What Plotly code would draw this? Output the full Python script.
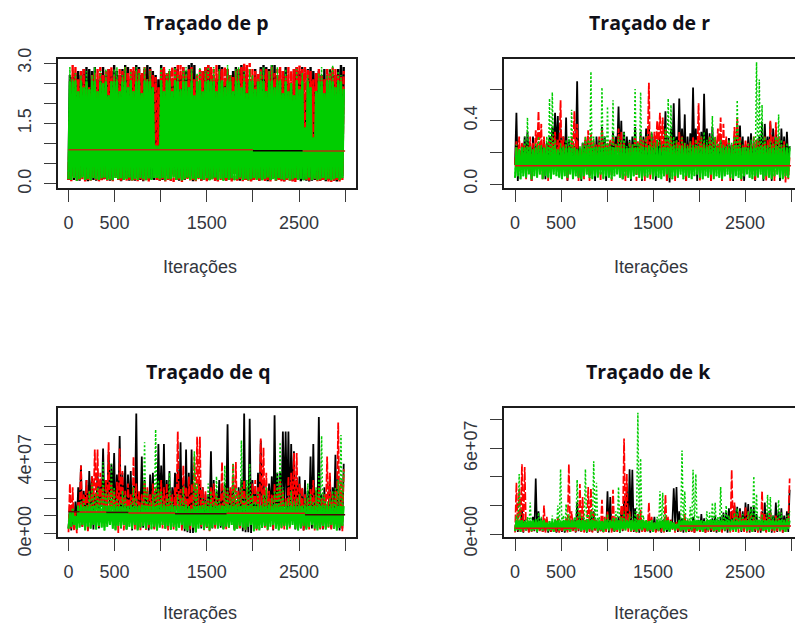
import numpy as np
import plotly.graph_objects as go

STEP = 30
SCALE = 1e7

# ---- Traçado de p ----
p_black_hi = [2.7,2.65,2.75,2.8,2.7,2.85,2.9,2.85,2.8,2.9,
              2.6,2.75,2.9,2.7,2.85,2.8,2.95,2.8,2.7,2.85,
              2.95,2.9,2.6,2.8,2.95,2.9,2.7,2.85,2.95,2.9,
              2.8,2.7,2.6,2.95,2.85,2.7,2.8,2.6,2.9,2.85,
              2.7,2.9,2.8,2.95,3.0,2.95,2.5,2.4,2.8,2.9,
              2.95,2.85,2.7,2.6,2.95,2.9,2.5,2.85,2.7,2.8,
              2.9,2.85,2.95,2.9,2.7,2.6,2.5,2.85,2.55,2.9,
              2.95,2.9,2.85,2.95,2.95,2.7,2.6,2.8,2.9,2.5,
              2.4,2.85,2.9,2.8,2.9,2.2,2.85,2.9,2.8,2.75,
              2.8,2.7,2.85,2.3,2.85,2.8,2.7,2.85,2.95,2.9]
p_black_lo = [0.1,0.2,0.1,0.15,0.08,0.2,0.1,0.07,0.15,0.1,
              0.08,0.2,0.1,0.12,0.15,0.08,0.1,0.2,0.1,0.07,
              0.1,0.15,0.08,0.1,0.08,0.15,0.1,0.07,0.2,0.1,
              0.12,0.1,0.3,0.08,0.1,0.2,0.12,0.08,0.25,0.1,
              0.08,0.2,0.1,0.15,0.2,0.07,0.1,0.15,0.08,0.1,
              0.2,0.1,0.15,0.08,0.1,0.3,0.1,0.08,0.12,0.1,
              0.25,0.1,0.08,0.15,0.1,0.12,0.08,0.1,0.15,0.08,
              0.1,0.12,0.07,0.1,0.15,0.08,0.12,0.1,0.07,0.1,
              0.15,0.08,0.1,0.12,0.07,0.1,0.08,0.06,0.08,0.1,
              0.12,0.08,0.1,0.07,0.1,0.12,0.08,0.06,0.1,0.2]
p_red_hi = [1.7,2.95,2.9,2.6,2.8,2.85,2.5,2.4,2.7,2.75,
            2.85,2.9,2.7,2.8,2.85,2.9,2.7,2.6,2.85,2.8,
            2.9,2.75,2.85,2.9,2.8,2.85,2.75,2.9,2.6,2.85,
            2.7,2.65,2.4,2.85,2.9,2.75,2.8,2.9,2.85,2.95,
            2.95,2.9,2.7,2.85,2.9,2.6,2.7,2.85,2.8,2.9,
            2.95,2.9,2.85,2.95,2.8,2.85,2.9,2.85,2.7,2.65,
            2.8,2.85,2.9,3.0,2.95,3.0,2.85,2.8,2.75,2.85,
            2.7,2.85,2.8,2.9,2.75,2.85,2.9,2.8,2.7,2.9,
            2.8,2.85,2.9,2.95,2.85,2.9,2.85,2.8,2.6,2.75,
            2.85,2.7,2.6,2.85,2.75,2.9,2.85,2.7,2.65,2.8]
p_red_lo = [0.1,0.07,0.15,0.08,0.1,0.12,0.06,0.1,0.08,0.15,
            0.1,0.07,0.09,0.12,0.08,0.1,0.07,0.15,0.1,0.08,
            0.12,0.06,0.1,0.08,0.1,0.07,0.12,0.08,0.1,0.06,
            0.9,0.9,0.1,0.08,0.12,0.06,0.1,0.08,0.05,0.1,
            0.08,0.05,0.1,0.12,0.08,0.1,0.06,0.12,0.08,0.1,
            0.07,0.1,0.12,0.08,0.06,0.1,0.12,0.08,0.1,0.06,
            0.1,0.08,0.12,0.07,0.1,0.08,0.06,0.1,0.12,0.08,
            0.1,0.07,0.1,0.06,0.12,0.08,0.1,0.07,0.06,0.1,
            0.08,0.06,0.05,0.1,0.2,1.4,0.1,0.08,1.15,0.12,
            0.06,0.08,0.1,0.12,0.06,0.05,0.08,0.1,0.06,0.1]
p_green_hi = [2.9,2.6,2.75,2.3,2.7,2.4,2.8,2.35,2.7,2.9,
              2.3,2.8,2.5,2.85,2.2,2.55,2.85,2.9,2.3,2.7,
              2.9,2.4,2.8,2.3,2.9,2.75,2.25,2.9,2.6,2.8,
              2.4,0.95,0.95,2.9,2.3,2.75,2.85,2.3,2.9,2.7,
              2.35,2.8,2.9,2.4,2.85,2.2,2.75,2.9,2.3,2.8,
              2.9,2.6,2.9,2.3,2.85,2.6,2.4,2.95,2.7,2.3,
              2.85,2.9,2.4,2.8,2.25,2.85,2.7,2.35,2.6,2.8,
              2.9,2.3,2.8,2.95,2.4,2.9,2.6,2.25,2.85,2.3,
              2.5,2.2,2.85,2.35,2.75,1.4,2.7,2.4,1.15,2.3,
              2.75,2.9,2.25,2.7,2.85,2.95,2.4,2.8,2.7,2.35]
p_green_lo = [0.12,0.1,0.15,0.08,0.12,0.16,0.1,0.13,0.09,0.15,
              0.12,0.1,0.14,0.16,0.1,0.12,0.09,0.15,0.12,0.14,
              0.1,0.12,0.16,0.09,0.13,0.1,0.15,0.12,0.09,0.14,
              0.1,0.15,0.15,0.12,0.15,0.09,0.13,0.12,0.16,0.1,
              0.14,0.09,0.12,0.16,0.1,0.13,0.09,0.15,0.12,0.1,
              0.14,0.09,0.12,0.16,0.1,0.13,0.08,0.15,0.1,0.14,
              0.09,0.12,0.16,0.1,0.13,0.09,0.12,0.15,0.1,0.14,
              0.09,0.13,0.16,0.1,0.12,0.09,0.15,0.12,0.1,0.14,
              0.09,0.12,0.15,0.1,0.13,0.09,0.12,0.16,0.1,0.13,
              0.09,0.12,0.15,0.1,0.13,0.09,0.12,0.15,0.1,0.14]
p_core_top = 2.55
p_seg_start = [0, 2000, 2540]
p_seg_end = [2000, 2540, 3000]
p_seg_value = [0.85, 0.825, 0.82]
p_seg_color = ["#b5300f", "#0a0000", "#b5300f"]

# ---- Traçado de r ----
r_black_hi = [0.45,0.2,0.24,0.3,0.33,0.26,0.3,0.24,0.22,0.25,
              0.28,0.26,0.3,0.36,0.45,0.43,0.35,0.3,0.42,0.28,
              0.25,0.24,0.65,0.22,0.26,0.28,0.3,0.28,0.25,0.3,
              0.28,0.36,0.3,0.25,0.27,0.33,0.3,0.49,0.4,0.33,
              0.3,0.28,0.3,0.36,0.25,0.33,0.3,0.35,0.37,0.32,
              0.3,0.28,0.3,0.25,0.46,0.3,0.35,0.51,0.3,0.54,
              0.35,0.44,0.3,0.32,0.61,0.35,0.3,0.33,0.57,0.35,
              0.32,0.36,0.28,0.25,0.3,0.27,0.26,0.29,0.25,0.3,
              0.38,0.37,0.3,0.25,0.3,0.32,0.24,0.28,0.3,0.39,
              0.38,0.3,0.39,0.35,0.33,0.3,0.35,0.3,0.33,0.24]
r_black_lo = [0.12,0.02,0.14,0.15,0.1,0.15,0.02,0.14,0.1,0.15,
              0.14,0.03,0.15,0.2,0.24,0.2,0.05,0.14,0.1,0.02,
              0.15,0.1,0.14,0.05,0.02,0.14,0.1,0.05,0.14,0.02,
              0.15,0.1,0.14,0.02,0.15,0.13,0.14,0.2,0.15,0.03,
              0.14,0.15,0.02,0.13,0.15,0.14,0.02,0.15,0.13,0.14,
              0.15,0.02,0.13,0.15,0.2,0.02,0.01,0.2,0.13,0.2,
              0.15,0.14,0.02,0.13,0.15,0.14,0.02,0.15,0.13,0.14,
              0.15,0.02,0.13,0.15,0.14,0.02,0.13,0.15,0.14,0.02,
              0.15,0.13,0.14,0.02,0.15,0.13,0.14,0.02,0.15,0.13,
              0.02,0.14,0.15,0.02,0.13,0.15,0.02,0.14,0.13,0.15]
r_red_hi = [0.27,0.3,0.26,0.25,0.24,0.3,0.26,0.34,0.46,0.38,
            0.3,0.25,0.27,0.3,0.33,0.28,0.53,0.3,0.25,0.24,
            0.3,0.46,0.38,0.22,0.25,0.3,0.34,0.32,0.28,0.25,
            0.3,0.34,0.25,0.26,0.28,0.3,0.26,0.35,0.33,0.27,
            0.22,0.26,0.25,0.3,0.27,0.3,0.28,0.3,0.64,0.3,
            0.33,0.4,0.45,0.42,0.35,0.28,0.3,0.25,0.28,0.33,
            0.3,0.26,0.25,0.27,0.3,0.28,0.51,0.3,0.26,0.25,
            0.3,0.27,0.3,0.35,0.42,0.38,0.3,0.27,0.25,0.36,
            0.42,0.3,0.25,0.28,0.26,0.25,0.3,0.28,0.27,0.25,
            0.3,0.28,0.4,0.3,0.39,0.3,0.25,0.27,0.22,0.18]
r_red_lo = [0.12,0.12,0.11,0.14,0.03,0.15,0.02,0.14,0.2,0.15,
            0.03,0.14,0.02,0.15,0.13,0.14,0.2,0.03,0.15,0.02,
            0.12,0.2,0.15,0.02,0.14,0.03,0.12,0.02,0.15,0.13,
            0.14,0.02,0.12,0.13,0.15,0.02,0.12,0.13,0.14,0.05,
            0.02,0.13,0.14,0.15,0.02,0.13,0.14,0.02,0.2,0.03,
            0.14,0.2,0.24,0.2,0.14,0.02,0.06,0.13,0.02,0.15,
            0.13,0.12,0.02,0.14,0.13,0.15,0.12,0.02,0.14,0.13,
            0.15,0.02,0.13,0.15,0.2,0.02,0.13,0.15,0.02,0.14,
            0.2,0.15,0.02,0.14,0.13,0.15,0.06,0.02,0.14,0.13,
            0.15,0.02,0.13,0.14,0.02,0.15,0.13,0.14,0.01,0.03]
r_green_hi = [0.25,0.22,0.24,0.3,0.42,0.24,0.22,0.26,0.3,0.25,
              0.23,0.3,0.54,0.58,0.28,0.22,0.26,0.24,0.28,0.3,
              0.47,0.25,0.22,0.24,0.26,0.3,0.28,0.71,0.3,0.24,
              0.28,0.61,0.3,0.49,0.26,0.53,0.25,0.3,0.28,0.33,
              0.24,0.27,0.25,0.6,0.26,0.58,0.28,0.3,0.25,0.33,
              0.26,0.28,0.27,0.25,0.35,0.54,0.5,0.3,0.28,0.25,
              0.3,0.26,0.24,0.27,0.25,0.28,0.26,0.3,0.33,0.28,
              0.3,0.43,0.3,0.26,0.28,0.25,0.24,0.28,0.26,0.3,
              0.53,0.28,0.25,0.24,0.26,0.28,0.3,0.77,0.66,0.5,
              0.3,0.25,0.27,0.26,0.3,0.44,0.28,0.25,0.26,0.24]
r_green_lo = [0.04,0.05,0.03,0.05,0.04,0.06,0.03,0.05,0.04,0.06,
              0.03,0.05,0.04,0.03,0.06,0.05,0.04,0.03,0.05,0.04,
              0.06,0.03,0.05,0.04,0.03,0.05,0.06,0.04,0.03,0.05,
              0.04,0.06,0.03,0.05,0.04,0.03,0.05,0.06,0.04,0.03,
              0.05,0.04,0.03,0.05,0.06,0.04,0.03,0.05,0.04,0.06,
              0.03,0.05,0.04,0.03,0.05,0.06,0.04,0.03,0.05,0.04,
              0.06,0.03,0.05,0.04,0.03,0.05,0.06,0.04,0.03,0.05,
              0.04,0.06,0.03,0.05,0.04,0.03,0.05,0.06,0.04,0.03,
              0.05,0.04,0.03,0.05,0.06,0.04,0.03,0.05,0.04,0.06,
              0.03,0.05,0.04,0.03,0.05,0.06,0.04,0.03,0.05,0.04]
r_core_top = 0.23
r_seg_start = [0]
r_seg_end = [3000]
r_seg_value = [0.116]
r_seg_color = ["#e01010"]

# ---- Traçado de q (units of 1e7) ----
q_black_hi = [1.6,1.4,1.8,2.6,3.8,2.4,3.0,3.5,3.2,2.2,
              3.4,3.0,4.75,3.0,4.55,3.9,4.5,3.3,5.45,3.4,
              3.8,3.3,3.5,2.8,6.7,2.2,4.3,3.0,2.4,3.3,
              3.4,2.4,5.0,3.8,5.0,3.0,3.5,2.6,3.4,3.6,
              5.1,3.0,4.7,3.4,4.7,2.8,2.4,3.0,2.6,2.2,
              2.2,4.6,3.0,2.4,3.0,2.6,2.8,6.1,2.4,3.0,
              1.8,2.6,3.0,6.7,2.4,6.4,3.0,2.4,3.4,5.2,
              3.0,2.4,2.8,3.2,6.6,3.4,3.4,5.7,5.7,5.7,
              5.0,4.6,3.0,3.2,2.5,3.0,2.4,4.3,5.0,2.4,
              6.5,2.2,2.6,1.6,3.2,2.6,4.4,3.2,2.0,3.9]
q_black_lo = [0.3,0.2,0.25,0.35,1.2,0.4,1.3,0.2,1.35,0.25,
              1.4,0.3,1.5,1.35,1.6,1.45,1.9,0.5,1.25,0.3,
              1.4,0.25,1.35,0.2,1.3,0.25,1.2,0.35,1.3,0.2,
              1.4,0.3,1.25,1.35,1.2,0.3,1.4,0.25,1.3,1.35,
              1.2,0.3,0.15,0.1,0.05,0.05,0.1,1.2,0.3,0.25,
              0.35,1.2,0.3,0.4,1.25,0.35,0.3,1.2,0.4,1.3,
              0.25,0.35,1.2,0.15,0.1,0.1,0.05,1.2,0.3,1.25,
              0.35,1.3,0.4,1.25,0.2,0.35,0.6,1.5,1.5,1.2,
              0.6,1.3,0.25,1.4,0.3,0.2,0.35,1.25,0.3,0.4,
              1.2,0.3,0.25,0.35,1.2,0.3,1.25,0.4,0.2,0.3]
q_red_hi = [2.8,2.6,1.2,1.8,3.8,2.2,3.0,2.4,3.2,4.7,
            4.7,3.4,2.6,3.0,5.1,2.8,2.4,2.9,4.75,3.5,
            2.4,2.8,2.2,4.3,2.8,2.4,2.2,2.9,2.6,2.2,
            2.8,2.6,2.4,3.0,2.6,2.8,2.4,2.2,2.6,5.7,
            2.5,3.8,2.6,3.2,2.8,4.3,5.4,5.4,2.6,2.4,
            1.9,2.6,2.8,2.2,2.0,4.0,2.6,2.4,2.6,3.9,
            4.0,2.4,2.6,3.0,2.6,2.2,2.8,3.0,2.6,5.3,
            4.8,3.4,2.4,2.2,2.8,2.6,3.0,2.4,2.0,3.2,
            3.4,4.5,4.5,2.8,2.6,2.2,2.0,2.5,3.0,2.4,
            2.6,2.0,2.2,4.3,3.4,2.2,2.4,6.2,3.0,3.6]
q_red_lo = [0.1,0.3,0.2,0.05,1.25,0.4,1.3,0.15,0.35,1.4,
            1.25,0.35,1.6,0.4,1.3,0.5,1.35,0.25,0.05,1.3,
            0.2,0.35,1.15,0.3,0.25,0.35,0.15,1.3,0.2,0.35,
            1.15,0.25,0.35,1.15,0.3,0.4,0.2,1.35,0.25,1.3,
            0.4,0.2,1.3,0.35,0.25,1.2,0.3,1.25,0.4,0.2,
            0.35,0.15,1.25,0.3,0.35,1.2,0.3,0.25,0.35,1.2,
            0.3,0.25,0.3,1.35,0.2,0.55,0.6,0.5,0.2,1.3,
            1.25,0.35,0.2,1.3,0.25,0.35,1.2,0.3,0.25,0.35,
            0.3,1.2,0.35,0.25,1.3,0.2,0.35,0.25,1.3,0.2,
            0.35,0.25,0.3,1.2,0.35,0.25,0.3,1.2,0.35,0.15]
q_green_hi = [1.2,1.4,1.0,1.6,1.8,2.0,1.6,2.4,2.8,2.2,
              2.6,2.0,4.0,2.4,2.2,3.9,2.6,2.0,1.8,2.4,
              2.2,1.6,1.8,2.6,2.0,1.6,1.8,5.1,2.4,1.8,
              2.2,5.8,3.0,2.4,1.8,2.0,3.4,1.8,1.6,2.2,
              2.0,2.6,1.8,1.6,1.4,4.6,2.8,1.6,2.0,1.8,
              2.8,2.4,1.8,3.2,2.0,1.6,3.8,2.6,2.0,3.9,
              2.6,2.2,5.2,2.0,3.0,3.9,2.2,1.8,2.4,1.6,
              2.2,2.6,1.8,2.0,2.4,3.4,5.1,2.6,1.8,2.0,
              2.4,1.8,2.0,2.2,1.6,2.0,2.8,2.2,1.8,2.6,
              3.4,5.45,2.2,1.8,2.0,2.4,2.6,3.0,5.5,3.6]
q_green_lo = [0.3,0.4,0.5,0.25,0.35,0.5,0.2,0.4,0.3,0.5,
              0.25,0.45,0.35,0.2,0.4,0.5,0.3,0.2,0.45,0.35,
              0.5,0.25,0.4,0.3,0.5,0.2,0.35,0.45,0.3,0.5,
              0.25,0.4,0.2,0.35,0.5,0.3,0.45,0.25,0.4,0.2,
              0.35,0.5,0.3,0.2,0.45,0.35,0.1,0.3,0.5,0.25,
              0.4,0.2,0.35,0.5,0.3,0.45,0.25,0.4,0.35,0.5,
              0.2,0.3,0.45,0.35,0.25,0.4,0.5,0.15,0.3,0.2,
              0.35,0.45,0.25,0.4,0.5,0.3,0.2,0.35,0.45,0.25,
              0.4,0.5,0.3,0.2,0.35,0.45,0.25,0.4,0.5,0.3,
              0.2,0.35,0.45,0.25,0.4,0.5,0.3,0.2,0.35,0.45]
q_core_top = 1.55
q_seg_start = [0, 120, 410, 650, 1155, 1715, 2565]
q_seg_end = [120, 410, 650, 1155, 1715, 2565, 3000]
q_seg_value = [1.24, 1.22, 1.2, 1.17, 1.12, 1.15, 1.07]
q_seg_color = ["#6a0505", "#e01010", "#4a0303", "#e01010", "#4a0303", "#e01010", "#4a0303"]

# ---- Traçado de k (units of 1e7) ----
k_black_hi = [0.9,0.7,1.7,1.0,0.8,0.9,1.2,3.9,1.6,1.1,
              0.9,0.8,0.7,0.8,0.6,0.5,0.7,0.9,0.6,0.8,
              0.7,1.0,2.2,1.5,1.2,0.9,1.0,1.4,1.6,1.0,
              0.8,0.7,0.9,3.0,2.6,1.0,0.9,1.2,1.6,2.4,
              3.2,4.55,4.5,1.8,1.4,1.0,0.9,0.7,0.8,0.9,
              1.2,1.0,0.9,1.0,0.8,0.7,1.0,3.2,3.3,1.6,
              1.1,1.0,0.9,0.8,1.2,0.9,1.0,1.4,1.1,0.8,
              0.9,1.1,1.3,1.0,1.2,1.5,1.6,1.8,1.6,2.0,
              1.9,1.8,1.6,2.2,2.1,1.9,2.0,1.4,0.9,1.6,
              2.2,1.5,1.7,1.3,2.2,1.6,1.8,1.3,1.6,3.1]
k_black_lo = [0.2,0.15,0.3,0.1,0.25,0.15,0.3,0.2,0.1,0.25,
              0.15,0.2,0.1,0.15,0.25,0.1,0.2,0.15,0.1,0.2,
              0.15,0.25,0.1,0.2,0.15,0.3,0.1,0.2,0.15,0.25,
              0.1,0.2,0.15,0.25,0.1,0.2,0.15,0.3,0.1,0.2,
              0.4,0.5,0.6,0.15,0.2,0.1,0.25,0.15,0.2,0.1,
              0.3,0.15,0.2,0.1,0.25,0.15,0.2,0.8,0.7,0.15,
              0.2,0.1,0.25,0.15,0.2,0.1,0.3,0.15,0.2,0.1,
              0.25,0.15,0.2,0.1,0.3,0.15,0.2,0.1,0.25,0.5,
              0.6,0.4,0.15,0.2,0.5,0.1,0.25,0.15,0.2,0.1,
              0.3,0.15,0.2,0.1,0.25,0.15,0.2,0.1,0.3,0.15]
k_red_hi = [3.6,3.2,4.9,4.7,1.0,0.8,0.7,0.9,0.8,1.0,
            2.0,1.2,0.7,0.5,0.7,1.2,0.8,0.9,1.1,4.9,
            1.6,0.9,1.2,3.5,2.6,1.0,3.3,3.2,1.5,1.0,
            0.8,2.4,1.2,1.6,1.0,3.1,1.2,0.9,2.0,6.7,
            4.2,1.6,1.0,0.9,1.4,1.7,1.0,0.9,2.2,1.2,
            0.8,0.9,0.7,0.8,2.75,1.2,1.0,0.8,0.9,0.7,
            0.9,1.4,1.0,0.8,0.9,0.7,0.8,0.6,0.7,1.0,
            0.9,0.8,0.9,0.7,0.8,1.0,0.9,0.8,4.5,2.2,
            1.4,1.6,1.2,1.9,1.6,1.4,1.2,1.0,1.0,3.0,
            1.4,1.2,1.5,1.0,1.3,1.1,0.9,1.0,1.1,3.9]
k_red_lo = [0.1,0.25,0.15,0.1,0.2,0.1,0.15,0.25,0.1,0.2,
            0.15,0.1,0.25,0.1,0.2,0.15,0.1,0.2,0.25,0.1,
            0.15,0.2,0.1,0.25,0.15,0.1,0.2,0.15,0.1,0.25,
            0.15,0.2,0.1,0.15,0.25,0.1,0.2,0.15,0.3,0.25,
            0.35,0.1,0.15,0.2,0.1,0.25,0.15,0.1,0.2,0.15,
            0.25,0.1,0.2,0.15,0.1,0.3,0.3,0.3,0.1,0.2,
            0.15,0.25,0.1,0.2,0.15,0.1,0.25,0.15,0.2,0.1,
            0.15,0.25,0.1,0.2,0.15,0.1,0.2,0.25,0.1,0.15,
            0.2,0.1,0.25,0.15,0.1,0.2,0.15,0.25,0.1,0.2,
            0.15,0.1,0.25,0.2,0.1,0.15,0.2,0.1,0.15,0.8]
k_green_hi = [1.3,4.2,1.0,0.9,1.2,2.2,1.0,1.1,1.5,1.2,
              1.0,0.8,0.9,1.3,1.1,2.0,4.55,1.3,2.1,1.4,
              1.0,1.2,3.8,1.5,1.2,4.55,1.4,1.6,5.1,3.6,
              1.2,0.9,1.1,1.4,1.0,1.2,1.6,3.3,1.2,1.6,
              1.0,1.4,1.2,1.6,8.5,5.3,1.3,1.0,0.9,1.0,
              0.8,1.2,3.0,2.9,1.4,1.0,0.9,0.8,0.7,1.0,
              5.85,3.0,1.1,1.9,4.5,4.2,1.3,1.0,0.9,1.6,
              1.5,2.2,2.2,1.2,3.3,1.4,2.0,1.3,1.1,1.5,
              1.8,1.2,1.4,1.0,1.6,1.8,4.05,2.8,1.2,1.4,
              1.0,2.75,2.6,1.3,1.1,2.4,1.5,1.0,1.3,1.6]
k_green_lo = [0.2,0.3,0.15,0.35,0.25,0.4,0.2,0.3,0.15,0.35,
              0.25,0.4,0.2,0.3,0.15,0.35,0.25,0.4,0.2,0.3,
              0.15,0.35,0.25,0.4,0.2,0.3,0.15,0.35,0.25,0.4,
              0.2,0.3,0.15,0.35,0.25,0.4,0.2,0.3,0.15,0.35,
              0.25,0.4,0.2,0.3,0.15,0.35,0.25,0.4,0.2,0.3,
              0.15,0.35,0.25,0.4,0.2,0.3,0.15,0.35,0.25,0.4,
              0.2,0.3,0.15,0.35,0.25,0.4,0.2,0.3,0.15,0.35,
              0.25,0.4,0.2,0.3,0.15,0.35,0.25,0.4,0.2,0.3,
              0.15,0.35,0.25,0.4,0.2,0.3,0.15,0.35,0.25,0.4,
              0.2,0.3,0.15,0.35,0.25,0.4,0.2,0.3,0.15,0.35]
k_core_top = 0.95
k_seg_start = [0, 1790]
k_seg_end = [670, 3000]
k_seg_value = [0.4, 0.56]
k_seg_color = ["#e01010", "#e01010"]

x_ticks = [0, 500, 1000, 1500, 2000, 2500, 3000]
x_tick_text = ["0", "500", "", "1500", "", "2500", ""]
p_ticks = [0, 0.5, 1.0, 1.5, 2.0, 2.5, 3.0]
p_tick_text = ["0.0", "", "", "1.5", "", "", "3.0"]
r_ticks = [0, 0.2, 0.4, 0.6]
r_tick_text = ["0.0", "", "0.4", ""]
q_ticks = [0, 1, 2, 3, 4, 5, 6]
q_tick_text = ["0e+00", "", "", "", "4e+07", "", ""]
k_ticks = [0, 2, 4, 6, 8]
k_tick_text = ["0e+00", "", "", "6e+07", ""]

W, H = 795, 625
INK = "#1c1c1c"
TXT = "#33363d"


def zigzag(hi, lo):
    n = min(len(hi), len(lo))
    x, y = [], []
    for i in range(n):
        x += [i * STEP, i * STEP + STEP / 2]
        y += [lo[i], hi[i]]
    return np.array(x), np.array(y, dtype=float)


panels = [
    dict(n="", hi=(p_black_hi, p_red_hi, p_green_hi), lo=(p_black_lo, p_red_lo, p_green_lo), cap=p_core_top,
         seg=(p_seg_start, p_seg_end, p_seg_value, p_seg_color), s=1, lw=2.4, cw=2.4,
         dom=(58, 356, 59, 188), xr=(-114, 3118), yr=(-0.1, 3.1), yt=(p_ticks, p_tick_text),
         title="Traçado de p", tx=206, ty=22, lx=200, ly=267),
    dict(n="2", hi=(r_black_hi, r_red_hi, r_green_hi), lo=(r_black_lo, r_red_lo, r_green_lo), cap=r_core_top,
         seg=(r_seg_start, r_seg_end, r_seg_value, r_seg_color), s=1, lw=1.8, cw=2.0,
         dom=(504, 795, 59, 188), xr=(-120, 3043), yr=(-0.025, 0.79), yt=(r_ticks, r_tick_text),
         title="Traçado de r", tx=649, ty=22, lx=651, ly=267),
    dict(n="3", hi=(q_black_hi, q_red_hi, q_green_hi), lo=(q_black_lo, q_red_lo, q_green_lo), cap=q_core_top,
         seg=(q_seg_start, q_seg_end, q_seg_value, q_seg_color), s=SCALE, lw=1.8, cw=2.0,
         dom=(58, 356, 408, 537), xr=(-114, 3118), yr=(-0.167, 7.0), yt=(q_ticks, q_tick_text),
         title="Traçado de q", tx=208, ty=372, lx=200, ly=613),
    dict(n="4", hi=(k_black_hi, k_red_hi, k_green_hi), lo=(k_black_lo, k_red_lo, k_green_lo), cap=k_core_top,
         seg=(k_seg_start, k_seg_end, k_seg_value, k_seg_color), s=SCALE, lw=1.7, cw=2.0,
         dom=(504, 795, 408, 537), xr=(-120, 3043), yr=(-0.21, 8.84), yt=(k_ticks, k_tick_text),
         title="Traçado de k", tx=648, ty=372, lx=651, ly=613),
]

fig = go.Figure()
layout = dict(
    width=W, height=H, margin=dict(l=0, r=0, t=0, b=0, pad=0),
    paper_bgcolor="white", plot_bgcolor="white", showlegend=False,
    font=dict(family="Liberation Sans", color=TXT, size=18),
)
ann = []
for pn in panels:
    xa, ya = "x" + pn["n"], "y" + pn["n"]
    s = pn["s"]
    xb, yb = zigzag(pn["hi"][0], pn["lo"][0])
    xr_, yr_ = zigzag(pn["hi"][1], pn["lo"][1])
    xg, yg = zigzag(pn["hi"][2], pn["lo"][2])
    tr = dict(mode="lines", xaxis=xa, yaxis=ya, hoverinfo="skip")
    fig.add_trace(go.Scatter(x=xb, y=yb * s, line=dict(color="#000000", width=pn["lw"]), **tr))
    fig.add_trace(go.Scatter(x=xr_, y=yr_ * s, line=dict(color="#ff0000", width=pn["lw"], dash="8px,2px"), **tr))
    fig.add_trace(go.Scatter(x=xg, y=yg * s, line=dict(color="#00cd00", width=1.5, dash="2px,2px"), **tr))
    fig.add_trace(go.Scatter(x=xg, y=np.minimum(yg, pn["cap"]) * s, line=dict(color="#00cd00", width=pn["cw"]), **tr))
    for a, b, v, c in zip(*pn["seg"]):
        fig.add_trace(go.Scatter(x=[a, b], y=[v * s, v * s], line=dict(color=c, width=1.5), **tr))
    l, r, t, b = pn["dom"]
    layout["xaxis" + pn["n"]] = dict(
        domain=[l / W, r / W], range=list(pn["xr"]), tickvals=x_ticks, ticktext=x_tick_text,
        ticks="outside", ticklen=12, tickwidth=1.3, tickcolor="#3a3a3a", showgrid=False, zeroline=False,
        showline=True, linecolor=INK, linewidth=1.6, mirror=True, anchor=ya, tickangle=0,
        tickfont=dict(size=18, color=TXT), ticklabelstandoff=6, automargin=False,
    )
    layout["yaxis" + pn["n"]] = dict(
        domain=[1 - b / H, 1 - t / H], range=[v * s for v in pn["yr"]],
        tickvals=[v * s for v in pn["yt"][0]], ticktext=pn["yt"][1],
        ticks="outside", ticklen=12, tickwidth=1.3, tickcolor="#3a3a3a", showgrid=False, zeroline=False,
        showline=True, linecolor=INK, linewidth=1.6, mirror=(r < W), anchor=xa, tickangle=-90,
        tickfont=dict(size=18, color=TXT), ticklabelstandoff=6, automargin=False,
    )
    ann.append(dict(text="<b>" + pn["title"] + "</b>", x=pn["tx"] / W, y=1 - pn["ty"] / H, xref="paper", yref="paper",
                    showarrow=False, xanchor="center", yanchor="middle",
                    font=dict(family="Open Sans", size=19.5, color="#101018")))
    ann.append(dict(text="Iterações", x=pn["lx"] / W, y=1 - pn["ly"] / H, xref="paper", yref="paper",
                    showarrow=False, xanchor="center", yanchor="middle",
                    font=dict(family="Liberation Sans", size=18, color=TXT)))
layout["annotations"] = ann
fig.update_layout(**layout)
fig.write_html("out.html", config={"displayModeBar": False},
               post_script="document.body.style.margin='0';document.documentElement.style.overflow='hidden';")
